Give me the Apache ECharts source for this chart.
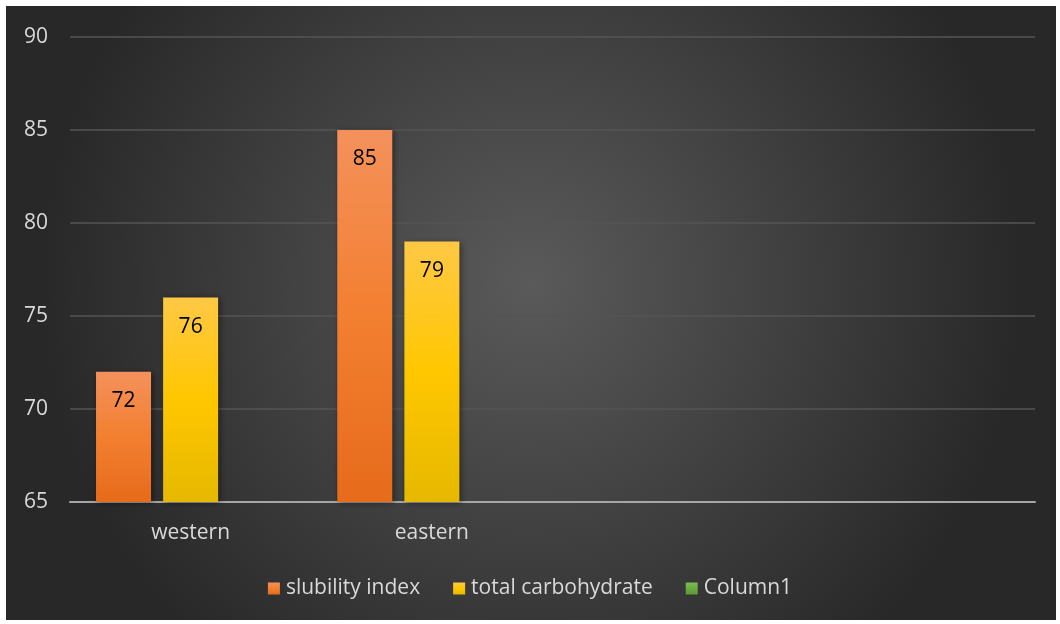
<!DOCTYPE html>
<html lang="en">
<head>
    <meta charset="UTF-8">
    <title>Document</title>
    <style>
        html, body { margin: 0; padding: 0; background: #fff; }
        #main { width: 1060px; height: 624px; }
    </style>
</head>
<body>
    <div id="main"></div>
    <script src="https://cdn.jsdelivr.net/npm/echarts@6/dist/echarts.min.js"></script>
    <script>
    var categories = ['western', 'eastern', '', ''];
    var slubility = [72, 85, null, null];
    var carbohydrate = [76, 79, null, null];
    var column1 = [null, null, null, null];
    var yTicks = { min: 65, max: 90, interval: 5 };

    var myChart = echarts.init(document.getElementById('main'));

    function vgrad(top, mid, bottom) {
        return new echarts.graphic.LinearGradient(0, 0, 0, 1, [
            { offset: 0, color: top },
            { offset: 0.5, color: mid },
            { offset: 1, color: bottom }
        ]);
    }

    var fontName = 'Open Sans';
    var labelStyle = {
        show: true,
        position: 'insideTop',
        distance: 19,
        color: '#000',
        fontSize: 21,
        fontFamily: fontName
    };
    var shadow = {
        shadowBlur: 6,
        shadowColor: 'rgba(0,0,0,0.45)',
        shadowOffsetX: 2,
        shadowOffsetY: 1
    };

    var option = {
        backgroundColor: '#ffffff',
        animation: false,
        graphic: [{
            type: 'rect',
            z: -10,
            silent: true,
            shape: { x: 6, y: 6, width: 1050, height: 614 },
            style: {
                fill: new echarts.graphic.RadialGradient(0.5, 0.45, 0.8, [
                    { offset: 0, color: '#5a5a5a' },
                    { offset: 1, color: '#282828' }
                ])
            }
        }],
        grid: {
            left: 70,
            right: 25,
            top: 37,
            bottom: 122,
            containLabel: false
        },
        legend: {
            data: ['slubility index', 'total carbohydrate', 'Column1'],
            left: 'center',
            top: 573,
            itemWidth: 12,
            itemHeight: 12,
            itemGap: 33,
            icon: 'rect',
            textStyle: {
                color: '#d9d9d9',
                fontSize: 21,
                fontFamily: fontName,
                padding: [0, 0, 0, 1]
            }
        },
        xAxis: [{
            type: 'category',
            data: categories,
            axisTick: { show: false },
            axisLine: {
                lineStyle: { color: '#a6a6a6', width: 2 }
            },
            axisLabel: {
                color: '#d9d9d9',
                fontSize: 21,
                fontFamily: fontName,
                margin: 21
            }
        }],
        yAxis: [{
            type: 'value',
            min: yTicks.min,
            max: yTicks.max,
            interval: yTicks.interval,
            axisLine: { show: false },
            axisTick: { show: false },
            axisLabel: {
                color: '#d9d9d9',
                fontSize: 21,
                fontFamily: fontName,
                margin: 22
            },
            splitLine: {
                lineStyle: { color: '#555555', width: 1.5 }
            }
        }],
        series: [{
            name: 'slubility index',
            type: 'bar',
            data: slubility,
            barWidth: 55,
            barGap: '22%',
            itemStyle: Object.assign({
                color: vgrad('#f4915b', '#f37f30', '#e66b1b')
            }, shadow),
            label: labelStyle
        }, {
            name: 'total carbohydrate',
            type: 'bar',
            data: carbohydrate,
            barWidth: 55,
            itemStyle: Object.assign({
                color: vgrad('#ffc845', '#ffc700', '#e6b800')
            }, shadow),
            label: labelStyle
        }, {
            name: 'Column1',
            type: 'bar',
            data: column1,
            barWidth: 55,
            itemStyle: {
                color: vgrad('#7fbb55', '#6aab3e', '#5d9a33')
            }
        }]
    };

    myChart.setOption(option);
    </script>
</body>
</html>
